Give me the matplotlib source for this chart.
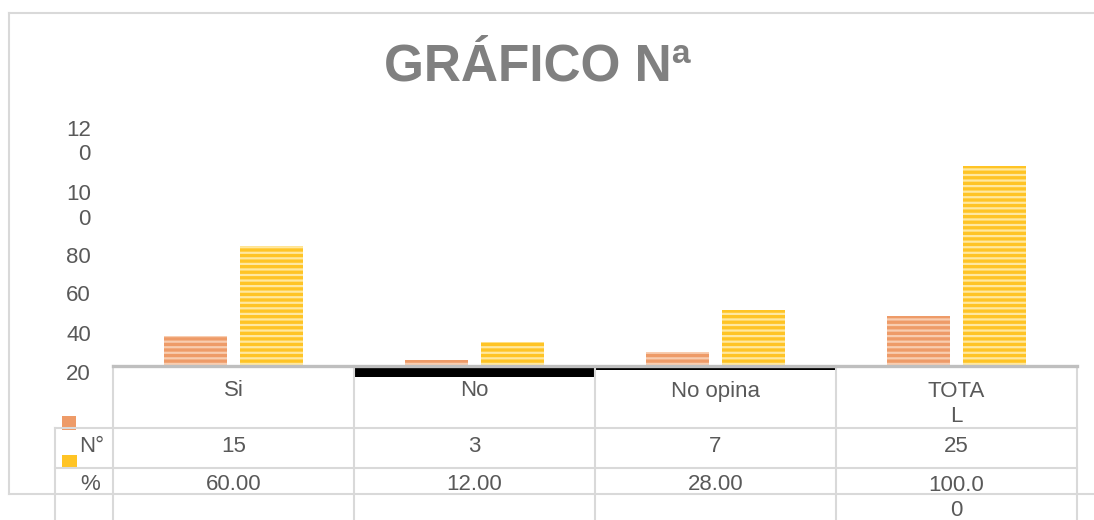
import matplotlib
matplotlib.use("Agg")
import matplotlib.pyplot as plt
import matplotlib.patches as patches

# data
categories = ["Si", "No", "No opina", "TOTA\nL"]
counts = [15, 3, 7, 25]
percents = [60.0, 12.0, 28.0, 100.0]
count_labels = ["15", "3", "7", "25"]
percent_labels = ["60.00", "12.00", "28.00", "100.0\n0"]
row_names = ["N°", "%"]
series_colors = ["#EE9B68", "#FFC425"]
stripe_colors = ["#F8CDB0", "#FFE8A0"]
ytick_labels = ["20", "40", "60", "80", "10\n0", "12\n0"]
ytick_pos = [-3, 16.5, 36.5, 55.5, 81.5, 114]

W, H = 1094, 520
TXT = "#595959"
GRID = "#D9D9D9"
FS = 16
plt.rcParams["font.family"] = ["Liberation Sans", "DejaVu Sans"]
plt.rcParams["hatch.linewidth"] = 1.6

fig = plt.figure(figsize=(W / 100, H / 100), dpi=100)
fig.patch.set_facecolor("white")

# table geometry in pixels
x0, x1 = 113, 1077
col_w = (x1 - x0) / len(categories)
base_y = 366

# bar axes: 2 px per unit, baseline at y=366
top_y, bot_y = 100, 386
ax = fig.add_axes([x0 / W, 1 - bot_y / H, (x1 - x0) / W, (bot_y - top_y) / H])
ax.patch.set_alpha(0)
ax.set_xlim(-0.5, len(categories) - 0.5)
ax.set_ylim(-(bot_y - base_y) / 2, (base_y - top_y) / 2)
for s in ax.spines.values():
    s.set_visible(False)
ax.set_xticks([])
ax.set_yticks(ytick_pos)
ax.set_yticklabels(ytick_labels, fontsize=FS, color=TXT, linespacing=1.2)
ax.tick_params(axis="y", length=0, pad=16)

xs = range(len(categories))
off, bw = 0.158, 0.262
for k, vals in enumerate([counts, percents]):
    ax.bar([x + (k * 2 - 1) * off for x in xs], vals, width=bw,
           color=series_colors[k], edgecolor=stripe_colors[k], linewidth=0,
           hatch="---", zorder=2)

# overlay in pixel coordinates for frame, table and title
ov = fig.add_axes([0, 0, 1, 1])
ov.set_xlim(0, W)
ov.set_ylim(H, 0)
ov.axis("off")
ov.patch.set_alpha(0)

lw = 1.5
# outer chart frame
ov.plot([9, W], [13, 13], color=GRID, lw=lw)
ov.plot([9, 9], [13, 494], color=GRID, lw=lw)
ov.plot([9, W], [494, 494], color=GRID, lw=lw)

# table grid
for yy in [428, 468]:
    ov.plot([55, x1], [yy, yy], color=GRID, lw=lw)
ov.plot([55, 55], [428, H], color=GRID, lw=lw)
for i in range(len(categories) + 1):
    xx = x0 + i * col_w
    ov.plot([xx, xx], [base_y, H], color=GRID, lw=lw)
ov.plot([x0, x1], [base_y, base_y], color="#BFBFBF", lw=2.4)
# black artifacts on the axis line
ov.add_patch(patches.Rectangle((353, 365), 241, 12, color="black", lw=0))
ov.add_patch(patches.Rectangle((594, 364.5), 241, 5, color="black", lw=0))

# legend keys in row-header column
ov.add_patch(patches.Rectangle((62, 416), 14, 14, color=series_colors[0], lw=0))
ov.add_patch(patches.Rectangle((62, 455), 15, 12, color=series_colors[1], lw=0))
ov.text(79, 447, row_names[0], ha="left", va="center", fontsize=FS, color=TXT)
ov.text(80, 484, row_names[1], ha="left", va="center", fontsize=FS, color=TXT)

line_h = 26
for i, cat in enumerate(categories):
    cx = x0 + (i + 0.5) * col_w
    n = cat.count("\n")
    ov.text(cx, 391 + n * line_h / 2, cat, ha="center", va="center",
            fontsize=FS, color=TXT, linespacing=1.2)
    ov.text(cx, 447, count_labels[i], ha="center", va="center",
            fontsize=FS, color=TXT)
    n = percent_labels[i].count("\n")
    ov.text(cx, 484 + n * 28 / 2, percent_labels[i], ha="center", va="center",
            fontsize=FS, color=TXT, linespacing=1.3)

ov.text(537, 67, "GRÁFICO Nª", ha="center", va="center", fontsize=37,
        fontweight="bold", color="#808080")

fig.savefig("out.png", dpi=100, facecolor="white")
